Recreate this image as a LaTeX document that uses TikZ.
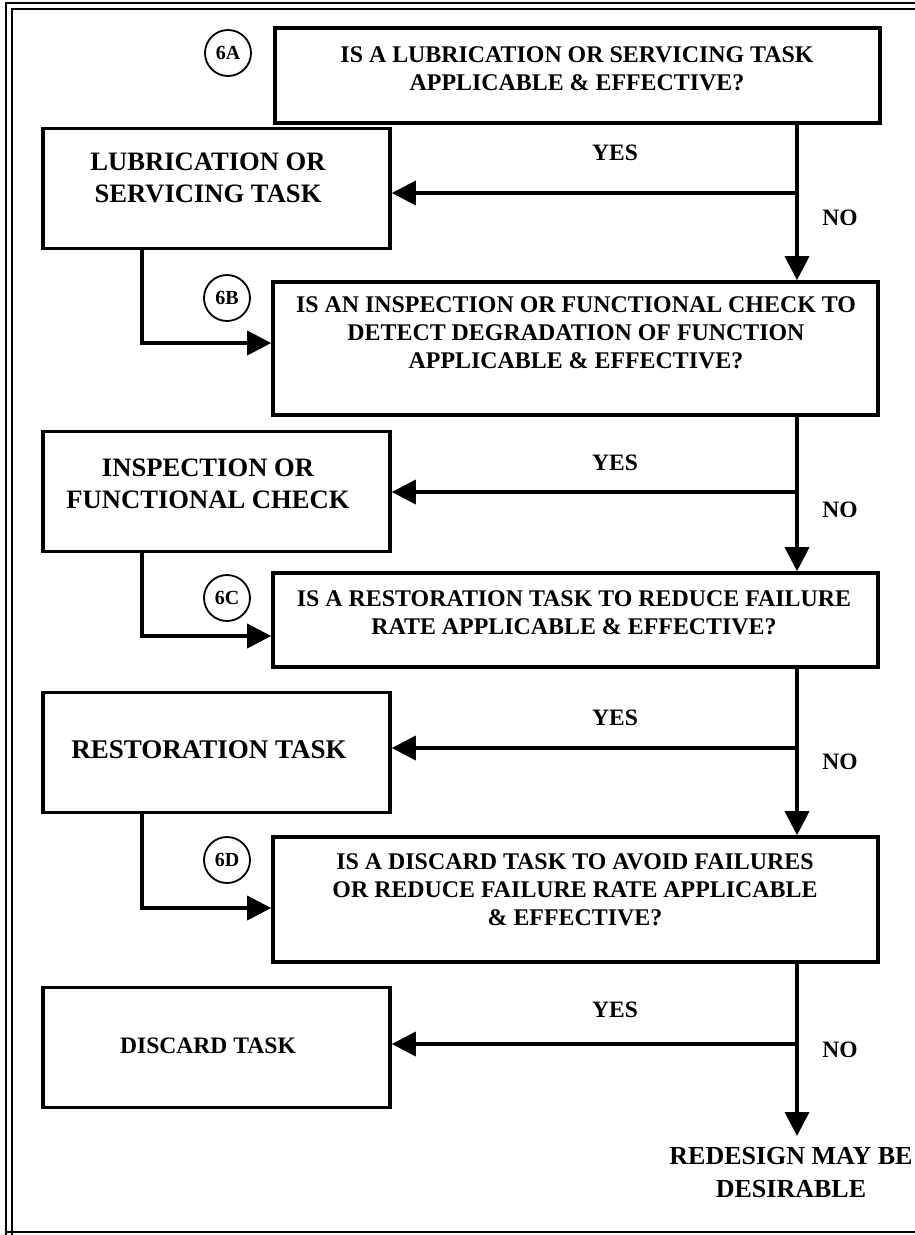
\documentclass[tikz,border=0pt]{standalone}
\usepackage{fontspec}
\setmainfont{Liberation Serif}
\usetikzlibrary{arrows.meta}
\begin{document}
\begin{tikzpicture}[x=1pt,y=-1pt,
  box/.style={draw, line width=3.6pt, rectangle, inner sep=0pt},
  qbox/.style={box, minimum width=605pt},
  tbox/.style={box, minimum width=347pt, minimum height=120pt},
  txt/.style={align=center, inner sep=0pt, font=\fontsize{23.9}{28}\selectfont\bfseries},
  ttxt/.style={align=center, inner sep=0pt, font=\fontsize{26.6}{32}\selectfont\bfseries},
  lbl/.style={inner sep=0pt, font=\fontsize{23.5}{28}\selectfont\bfseries},
  tag/.style={draw, circle, line width=1.8pt, minimum size=46pt, inner sep=0pt, font=\fontsize{20}{20}\selectfont\bfseries},
  conn/.style={line width=3.6pt},
  arr/.style={conn, -{Triangle[length=24pt,width=24pt]}},
  frame/.style={line width=1.8pt}
]
\useasboundingbox (0,0) rectangle (915,1235);

% page frame: doubled on the left and top
\draw[frame] (6,1240) -- (6,3) -- (930,3);
\draw[frame] (12,1240) -- (12,9) -- (930,9);
\draw[frame] (6,1232) -- (930,1232);

% reference columns and branch levels
\coordinate (col) at (797,0);
\coordinate (lcol) at (142,0);
\coordinate (eb) at (0,343);
\coordinate (ec) at (0,636);
\coordinate (ed) at (0,908);
\coordinate (ya-lvl) at (0,193);
\coordinate (yb-lvl) at (0,492);
\coordinate (yc-lvl) at (0,748);
\coordinate (yd-lvl) at (0,1044);
\coordinate (stop) at (797,1136);

% 6A
\node[qbox, minimum height=95pt] (qa) at (577.5,75.5) {};
\node[txt] (qat) at (577,68.5) {IS A LUBRICATION OR SERVICING TASK\\APPLICABLE \& EFFECTIVE?};
\node[tag] (ta) at (228,53) {6A};
\node[tbox] (la) at (216.5,188.5) {};
\node[ttxt] (lat) at (208,178) {LUBRICATION OR\\SERVICING TASK};

% 6B
\node[qbox, minimum height=133pt] (qb) at (575.5,348.5) {};
\node[txt] (qbt) at (576,332.5) {IS AN INSPECTION OR FUNCTIONAL CHECK TO\\DETECT DEGRADATION OF FUNCTION\\APPLICABLE \& EFFECTIVE?};
\node[tag] (tb) at (227,298) {6B};
\node[tbox] (lb) at (216.5,491.5) {};
\node[ttxt] (lbt) at (208,483.5) {INSPECTION OR\\FUNCTIONAL CHECK};

% 6C
\node[qbox, minimum height=94pt] (qc) at (575.5,620) {};
\node[txt] (qct) at (574,612.5) {IS A RESTORATION TASK TO REDUCE FAILURE\\RATE APPLICABLE \& EFFECTIVE?};
\node[tag] (tc) at (227,598) {6C};
\node[tbox] (lc) at (216.5,752.5) {};
\node[ttxt, font=\fontsize{27}{32}\selectfont\bfseries] (lct) at (209,750) {RESTORATION TASK};

% 6D
\node[qbox, minimum height=125pt] (qd) at (575.5,899.5) {};
\node[txt] (qdt) at (575,890) {IS A DISCARD TASK TO AVOID FAILURES\\OR REDUCE FAILURE RATE APPLICABLE\\\& EFFECTIVE?};
\node[tag] (td) at (227,860) {6D};
\node[tbox] (ld) at (216.5,1047.5) {};
\node[ttxt, font=\fontsize{23.6}{28}\selectfont\bfseries] (ldt) at (208,1046) {DISCARD TASK};

\node[align=center, inner sep=0pt, font=\fontsize{26}{33}\selectfont\bfseries] (redesign) at (791,1173) {REDESIGN MAY BE\\DESIRABLE};

% NO path down the right column
\draw[arr] (qa.south -| col) -- (qb.north -| col);
\draw[arr] (qb.south -| col) -- (qc.north -| col);
\draw[arr] (qc.south -| col) -- (qd.north -| col);
\draw[arr] (qd.south -| col) -- (stop);

% YES branches to the task boxes
\draw[arr] (col |- ya-lvl) -- (la.east |- ya-lvl);
\draw[arr] (col |- yb-lvl) -- (lb.east |- yb-lvl);
\draw[arr] (col |- yc-lvl) -- (lc.east |- yc-lvl);
\draw[arr] (col |- yd-lvl) -- (ld.east |- yd-lvl);

% from each task on to the next question
\draw[arr] (la.south -| lcol) |- (qb.west |- eb);
\draw[arr] (lb.south -| lcol) |- (qc.west |- ec);
\draw[arr] (lc.south -| lcol) |- (qd.west |- ed);

% branch labels
\node[lbl] (ya) at (615,153) {YES};
\node[lbl] (yb) at (615,463) {YES};
\node[lbl] (yc) at (615,718) {YES};
\node[lbl] (yd) at (615,1010) {YES};
\node[lbl] (na) at (840,218) {NO};
\node[lbl] (nb) at (840,510) {NO};
\node[lbl] (nc) at (840,762) {NO};
\node[lbl] (nd) at (840,1050) {NO};
\end{tikzpicture}
\end{document}
